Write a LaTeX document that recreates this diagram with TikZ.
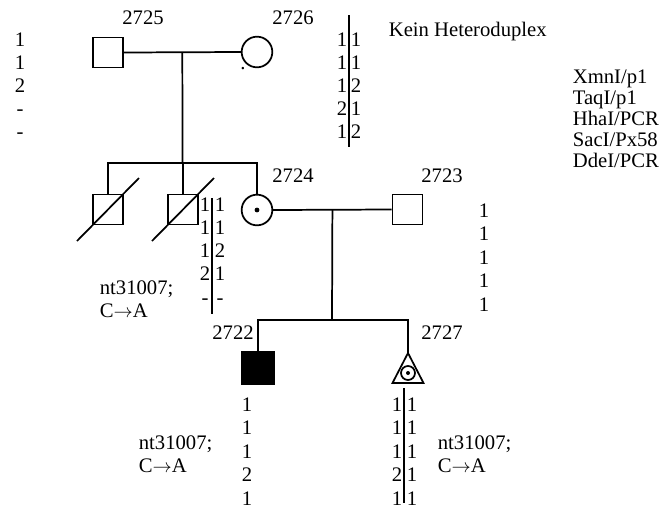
\documentclass[tikz,border=0pt]{standalone}
\usepackage{fontspec}
\setmainfont{Liberation Serif}
\usetikzlibrary{positioning}
\begin{document}
\begin{tikzpicture}[x=0.75pt, y=-0.75pt, line width=1.3pt]

    % rozměr obrázku
    \useasboundingbox (0,0) rectangle (661,508);

    % styly symbolů a textů
    \tikzset{
        muz/.style={draw=black, minimum size=22.5pt, inner sep=0pt},
        zena/.style={draw=black, circle, minimum size=23pt, inner sep=0pt},
        tecka/.style={fill=black, circle, minimum size=3.6pt, inner sep=0pt},
        txt/.style={inner sep=0pt, font=\fontsize{15.5}{18}\selectfont},
        cislo/.style={txt, anchor=base},
        popis/.style={txt, anchor=base west}
    }

    % pomocné makro pro sloupec alel
    % #1 jméno, #2 x, #3 y prvního řádku, #4 rozestup, #5 hodnoty
    \newcommand{\alely}[5]{%
        \foreach \v [count=\i] in {#5} {
            \node[cislo] (#1\i) at (#2,{#3+#4*(\i-1)}) {\v};
        }
    }

    % --- 1. generace ---
    \node[muz] (i2725) at (108,52.5) {};
    \node[zena] (i2726) at (257,52) {};
    \node[cislo] (t2726) at (243,69) {.};
    \node[txt] (l2725) at (143,18) {2725};
    \node[txt] (l2726) at (293,18) {2726};

    \draw (i2725.east) -- coordinate[midway] (m1) (i2726.west);
    \coordinate (s1) at (182.5,163);
    \draw (m1) -- (s1);

    % alely 2725 a 2726
    \alely{a2725}{20}{46}{23}{1,1,2,-,-}
    \alely{a2726l}{342}{46}{23}{1,1,1,2,1}
    \alely{a2726r}{356}{46}{23}{1,1,2,1,2}
    \coordinate (b2726t) at (349,15);
    \coordinate (b2726b) at (349,147);
    \draw (b2726t) -- (b2726b);

    \node[popis] (kein) at (388,36) {Kein Heteroduplex};

    % legenda
    \foreach \r [count=\i] in {XmnI/p1,TaqI/p1,HhaI/PCR,SacI/Px58,DdeI/PCR} {
        \node[popis] (leg\i) at (572,{83+21*(\i-1)}) {\r};
    }

    % --- 2. generace ---
    \node[muz] (d1) at (108,209.5) {};
    \node[muz] (d2) at (183,209.5) {};
    \node[zena] (i2724) at (257,210) {};
    \node[tecka] (p2724) at (i2724.center) {};
    \node[muz] (i2723) at (407.5,209.5) {};
    \node[txt] (l2724) at (293,176) {2724};
    \node[txt] (l2723) at (442,176) {2723};

    \draw (d1.north) |- (s1) -| (i2724.north);
    \draw (d2.north) -- (d2.north |- s1);

    % zemřelí sourozenci
    \foreach \d in {d1,d2} {
        \draw ([shift={(-31,31.5)}]\d.center) -- ([shift={(31,-31.5)}]\d.center);
    }

    \draw (i2724.east) -- coordinate[midway] (m2) (i2723.west);
    \coordinate (s2) at (332,320);
    \draw (m2) -- (s2);

    % alely 2. generace
    \alely{ad2l}{205}{211}{23.3}{1,1,1,2,-}
    \alely{ad2r}{220}{211}{23.3}{1,1,2,1,-}
    \coordinate (bd2t) at (212,198);
    \coordinate (bd2b) at (212,314);
    \draw (bd2t) -- (bd2b);
    \alely{a2723}{484}{217}{23.5}{1,1,1,1,1}

    \node[popis] (n1a) at (99,294) {nt31007;};
    \node[popis] (n1b) at (99,317) {C$\rightarrow$A};

    % --- 3. generace ---
    \node[muz, fill=black, minimum size=24pt] (i2722) at (258,368) {};
    \coordinate (i2727) at (408,353);
    \draw (i2727) -- ++(15.5,30) -- ++(-31,0) -- cycle;
    \node[zena, minimum size=10.5pt] (c2727) at (408,373) {};
    \node[tecka, minimum size=3pt] (p2727) at (c2727.center) {};
    \node[txt] (l2722) at (233,333) {2722};
    \node[txt] (l2727) at (442,333) {2727};

    \draw (i2722.north) |- (s2) -| (i2727);

    % alely 3. generace
    \alely{a2722}{247}{411}{23.5}{1,1,1,2,1}
    \alely{a2727l}{397}{411}{23.5}{1,1,1,2,1}
    \alely{a2727r}{412}{411}{23.5}{1,1,1,1,1}
    \coordinate (b2727t) at (404,388);
    \coordinate (b2727b) at (404,503);
    \draw (b2727t) -- (b2727b);

    \node[popis] (n2a) at (138,449) {nt31007;};
    \node[popis] (n2b) at (138,472) {C$\rightarrow$A};
    \node[popis] (n3a) at (437,449) {nt31007;};
    \node[popis] (n3b) at (437,472) {C$\rightarrow$A};

\end{tikzpicture}
\end{document}
